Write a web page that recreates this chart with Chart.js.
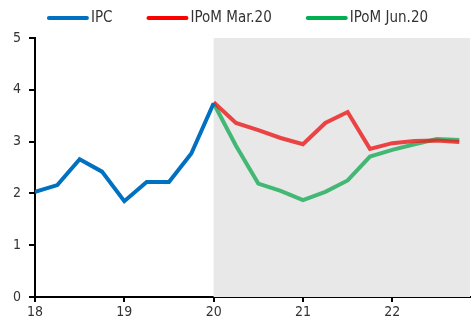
<!DOCTYPE html>
<html>
<head>
<meta charset="utf-8">
<script src="https://cdn.jsdelivr.net/npm/chart.js@4.4.1/dist/chart.umd.min.js"></script>
<style>
  html, body { margin: 0; padding: 0; background: #fff; }
  #wrap { width: 475px; height: 322px; }
</style>
</head>
<body>
<div id="wrap"><canvas id="ipcChart"></canvas></div>
<script>
// Quarterly CPI, actual and the two IPoM projections
const quartersIpc = [18, 18.25, 18.5, 18.75, 19, 19.25, 19.5, 19.75, 20];
const ipc = [2.03, 2.16, 2.66, 2.42, 1.85, 2.22, 2.22, 2.77, 3.74];

const quartersProj = [20, 20.25, 20.5, 20.75, 21, 21.25, 21.5, 21.75, 22, 22.25, 22.5, 22.75];
const ipomMar = [3.76, 3.36, 3.22, 3.07, 2.95, 3.36, 3.57, 2.86, 2.97, 3.01, 3.02, 2.99];
const ipomJun = [3.74, 2.92, 2.19, 2.05, 1.87, 2.03, 2.25, 2.71, 2.84, 2.95, 3.05, 3.03];

const seriesNames = ['IPC', 'IPoM Mar.20', 'IPoM Jun.20'];
const xTicks = [18, 19, 20, 21, 22];
const yTicks = [0, 1, 2, 3, 4, 5];
const projStart = 20;

const FONT = '"DejaVu Sans Condensed", "DejaVu Sans", sans-serif';
const legendColors = ['#0070c0', '#ff0000', '#00b050'];
const lineColors = ['#0070c0', 'rgba(235,30,30,0.82)', 'rgba(20,170,85,0.78)'];

const toPoints = (xs, ys) => xs.map((x, i) => ({ x, y: ys[i] }));

// grey band behind the projection period
const shadePlugin = {
  id: 'shade',
  beforeDatasetsDraw(chart) {
    const { ctx, chartArea, scales } = chart;
    const x0 = scales.x.getPixelForValue(projStart);
    ctx.save();
    ctx.fillStyle = '#e8e8e8';
    ctx.fillRect(x0, chartArea.top, chartArea.right - x0, chartArea.bottom - chartArea.top);
    ctx.restore();
  }
};

// legend row: long line sample, text right next to it, items centred
const legendPlugin = {
  id: 'lineLegend',
  afterDraw(chart) {
    const { ctx, width } = chart;
    const sample = 42, gap = 2, spacing = 34, y = 18;
    ctx.save();
    ctx.font = '15px ' + FONT;
    const widths = seriesNames.map(t => ctx.measureText(t).width);
    const total = widths.reduce((a, w) => a + sample + gap + w, 0) + spacing * (seriesNames.length - 1);
    let x = (width - total) / 2;
    seriesNames.forEach((name, i) => {
      ctx.strokeStyle = legendColors[i];
      ctx.lineWidth = 4;
      ctx.lineCap = 'round';
      ctx.beginPath();
      ctx.moveTo(x + 2, y);
      ctx.lineTo(x + sample - 2, y);
      ctx.stroke();
      ctx.fillStyle = '#333';
      ctx.textBaseline = 'middle';
      ctx.fillText(name, x + sample + gap, y);
      x += sample + gap + widths[i] + spacing;
    });
    ctx.restore();
  }
};

new Chart(document.getElementById('ipcChart'), {
  type: 'line',
  data: {
    datasets: seriesNames.map((name, i) => ({
      label: name,
      data: [toPoints(quartersIpc, ipc), toPoints(quartersProj, ipomMar), toPoints(quartersProj, ipomJun)][i],
      borderColor: lineColors[i]
    }))
  },
  options: {
    responsive: true,
    maintainAspectRatio: false,
    animation: false,
    layout: { padding: { left: 0, right: 5, top: 38, bottom: 0 } },
    elements: {
      line: { borderWidth: 4, tension: 0, borderJoinStyle: 'miter' },
      point: { radius: 0 }
    },
    plugins: {
      tooltip: { enabled: false },
      legend: { display: false }
    },
    scales: {
      x: {
        type: 'linear',
        min: 18,
        max: 22.87,
        afterBuildTicks: (s) => { s.ticks = xTicks.map(v => ({ value: v })); },
        afterFit: (s) => { s.height = 25; },
        border: { color: '#000', width: 2 },
        grid: { drawOnChartArea: false, color: '#000', lineWidth: 2, tickLength: 5 },
        ticks: { color: '#333', font: { family: FONT, size: 14 }, padding: 2, maxRotation: 0 }
      },
      y: {
        min: 0,
        max: 5,
        afterBuildTicks: (s) => { s.ticks = yTicks.map(v => ({ value: v })); },
        afterFit: (s) => { s.width = 35; },
        border: { color: '#000', width: 2 },
        grid: { drawOnChartArea: false, color: '#000', lineWidth: 2, tickLength: 6 },
        ticks: { color: '#333', font: { family: FONT, size: 14 }, padding: 8 }
      }
    }
  },
  plugins: [shadePlugin, legendPlugin]
});
</script>
</body>
</html>
